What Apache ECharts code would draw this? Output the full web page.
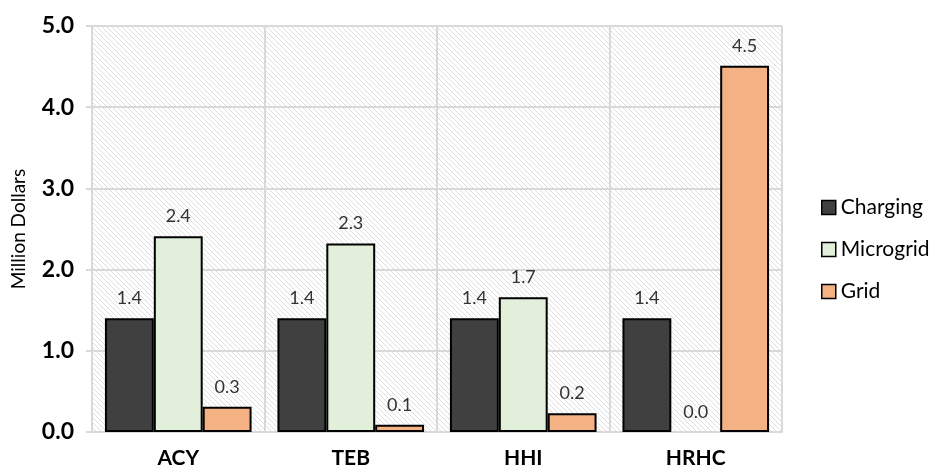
<!DOCTYPE html>
<html>
<head>
<meta charset="utf-8">
<script src="https://cdn.jsdelivr.net/npm/echarts@6/dist/echarts.min.js"></script>
<style>
    html, body { margin: 0; padding: 0; background: #fff; }
    #chart { width: 940px; height: 476px; }
</style>
</head>
<body>
<div id="chart"></div>
<script>
const categories = ['ACY', 'TEB', 'HHI', 'HRHC']
const charging = [1.4, 1.4, 1.4, 1.4]
const microgrid = [2.41, 2.32, 1.66, 0]
const gridCost = [0.31, 0.09, 0.23, 4.51]
const yTicks = [0, 1, 2, 3, 4, 5]

// hatched background of the plot area
function makeHatch () {
    const c = document.createElement('canvas')
    c.width = 5
    c.height = 5
    const ctx = c.getContext('2d')
    ctx.fillStyle = '#ffffff'
    ctx.fillRect(0, 0, 5, 5)
    ctx.strokeStyle = '#dedede'
    ctx.lineWidth = 1
    ctx.beginPath()
    ctx.moveTo(-1, -1); ctx.lineTo(6, 6)
    ctx.moveTo(-6, -1); ctx.lineTo(1, 6)
    ctx.moveTo(4, -1); ctx.lineTo(11, 6)
    ctx.stroke()
    return c
}

const font = 'Lato, "Open Sans", sans-serif'

function barSeries (name, data, color) {
    return {
        name: name,
        type: 'bar',
        // a zero bar should not leave a border line on the baseline
        data: data.map(v => v === 0 ? { value: v, itemStyle: { borderWidth: 0 } } : v),
        barGap: '0%',
        barCategoryGap: '15%',
        itemStyle: { color: color, borderColor: '#000', borderWidth: 2 },
        label: {
            show: true,
            position: 'top',
            distance: 11,
            color: '#333',
            fontSize: 18,
            fontFamily: font,
            formatter: p => p.value.toFixed(1)
        }
    }
}

const myCharts = echarts.init(document.getElementById('chart'))
const option = {
    animation: false,
    textStyle: { fontFamily: font },
    grid: {
        left: 92,
        right: 158,
        top: 26,
        bottom: 44,
        show: true,
        borderWidth: 0,
        backgroundColor: { image: makeHatch(), repeat: 'repeat' }
    },
    legend: {
        orient: 'vertical',
        left: 816,
        top: 192,
        itemWidth: 14,
        itemHeight: 14,
        itemGap: 21,
        itemTextGap: 4,
        icon: 'rect',
        itemStyle: { borderColor: '#000', borderWidth: 1.5 },
        textStyle: { fontSize: 21, color: '#000', fontFamily: font },
        data: ['Charging', 'Microgrid', 'Grid']
    },
    xAxis: {
        type: 'category',
        data: categories,
        axisLine: { lineStyle: { color: '#d9d9d9', width: 2 } },
        axisTick: { show: false },
        axisLabel: { color: '#000', fontSize: 21, fontWeight: 'bold', margin: 16, fontFamily: font },
        splitLine: { show: true, lineStyle: { color: '#d9d9d9', width: 2 } }
    },
    yAxis: {
        type: 'value',
        min: yTicks[0],
        max: yTicks[yTicks.length - 1],
        interval: 1,
        name: 'Million Dollars',
        nameLocation: 'middle',
        nameGap: 64,
        nameTextStyle: { fontSize: 19, color: '#000', fontFamily: font },
        axisLine: { show: false },
        axisTick: { show: true, length: 6, lineStyle: { color: '#d9d9d9', width: 2 } },
        axisLabel: {
            color: '#000',
            fontSize: 23,
            fontWeight: 'bold',
            margin: 18,
            fontFamily: font,
            formatter: v => v.toFixed(1)
        },
        splitLine: { lineStyle: { color: '#d9d9d9', width: 2 } }
    },
    series: [
        barSeries('Charging', charging, '#404040'),
        barSeries('Microgrid', microgrid, '#e2efda'),
        barSeries('Grid', gridCost, '#f4b183')
    ]
}
myCharts.setOption(option)
window.onresize = myCharts.resize
</script>
</body>
</html>
